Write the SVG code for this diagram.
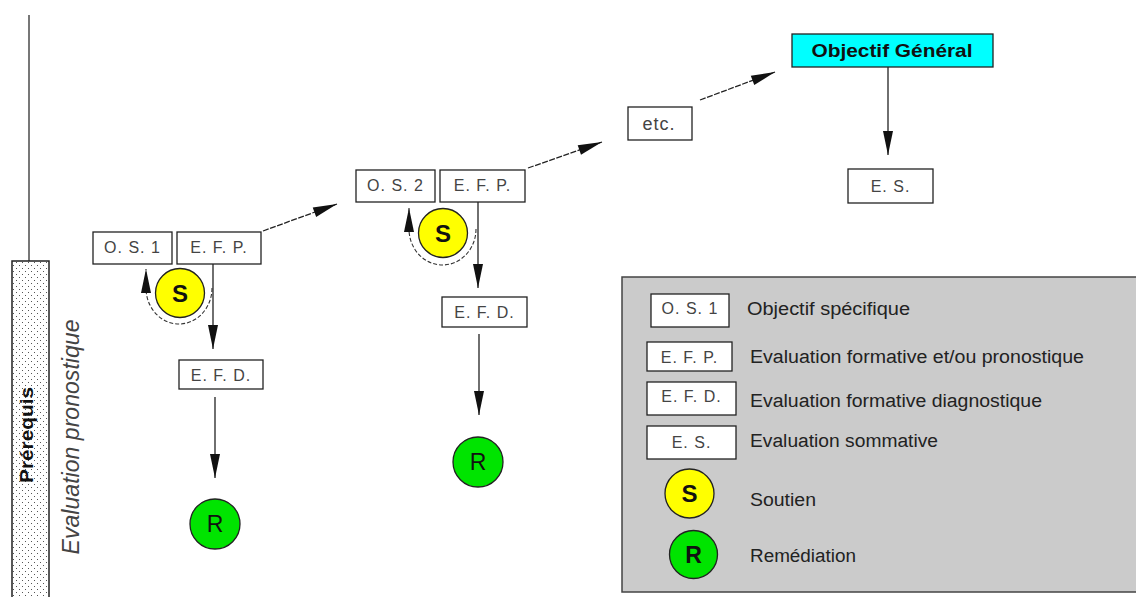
<svg xmlns="http://www.w3.org/2000/svg" width="1136" height="597" viewBox="0 0 1136 597">
<style>
.box{fill:#fff;stroke:#222;stroke-width:1.3}
.bt{font-family:"Liberation Sans",Arial,sans-serif;font-size:16px;fill:#444;text-anchor:middle;letter-spacing:1px}
.lt{font-family:"Liberation Sans",Arial,sans-serif;font-size:18px;fill:#222}
.ln{fill:none;stroke:#222;stroke-width:1.3}
.dl{fill:none;stroke:#222;stroke-width:1.3;stroke-dasharray:6 1.5}
.arc{fill:none;stroke:#333;stroke-width:1.1;stroke-dasharray:4 2}
.sc{fill:#ffff00;stroke:#222;stroke-width:1.3}
.rc{fill:#00e400;stroke:#222;stroke-width:1.3}
.st{font-family:"Liberation Sans",Arial,sans-serif;font-size:24px;font-weight:bold;fill:#111;text-anchor:middle}
.rt{font-family:"Liberation Sans",Arial,sans-serif;font-size:23px;fill:#111;text-anchor:middle}
</style>
<defs>
<marker id="ah" markerUnits="userSpaceOnUse" markerWidth="30" markerHeight="14" viewBox="-26 -7 28 14" refX="0" refY="0" orient="auto">
<path d="M0,0 L-24,-5 L-24,5 Z" fill="#111"/>
</marker>
<pattern id="dots" width="6" height="6" patternUnits="userSpaceOnUse">
<rect width="6" height="6" fill="#fff"/>
<rect x="1" y="1" width="1" height="1" fill="#555"/>
<rect x="4" y="4" width="1" height="1" fill="#555"/>
</pattern>
</defs>

<g id="prerequis">
<line x1="29" y1="15" x2="29" y2="261" stroke="#777" stroke-width="2"/>
<rect x="12" y="261" width="37" height="345" fill="url(#dots)" stroke="#222" stroke-width="1.5"/>
<text transform="translate(33,435) rotate(-90)" font-family="'Liberation Sans',Arial,sans-serif" font-size="18" font-weight="bold" fill="#111" text-anchor="middle" textLength="96" lengthAdjust="spacingAndGlyphs">Prérequis</text>
</g>
<g id="eval-pronostique">
<text transform="translate(79,437) rotate(-90)" font-family="'Liberation Sans',Arial,sans-serif" font-size="23" font-style="italic" fill="#444" text-anchor="middle" textLength="235" lengthAdjust="spacingAndGlyphs">Evaluation pronostique</text>
</g>

<g id="connectors">
<line class="dl" x1="263" y1="231" x2="337" y2="204" marker-end="url(#ah)"/>
<line class="dl" x1="528" y1="168" x2="602" y2="142" marker-end="url(#ah)"/>
<line class="dl" x1="700" y1="100" x2="775" y2="72" marker-end="url(#ah)"/>
<line class="ln" x1="213" y1="264" x2="213" y2="349" marker-end="url(#ah)"/>
<line class="ln" x1="215" y1="397" x2="215" y2="478" marker-end="url(#ah)"/>
<line class="ln" x1="478" y1="202" x2="478" y2="288" marker-end="url(#ah)"/>
<line class="ln" x1="479" y1="334" x2="479" y2="415" marker-end="url(#ah)"/>
<line class="ln" x1="888" y1="67" x2="888" y2="155" marker-end="url(#ah)"/>
<path class="arc" d="M212,288 A33,36 0 0 1 146,288 L146,269" marker-end="url(#ah)"/>
<path class="arc" d="M476,229 A33.5,36 0 0 1 409,229 L409,208" marker-end="url(#ah)"/>
</g>

<g id="os1"><rect class="box" x="93" y="232" width="79" height="32"/><text class="bt" x="132.5" y="253">O. S. 1</text></g>
<g id="efp1"><rect class="box" x="177" y="232" width="84" height="32"/><text class="bt" x="219" y="253">E. F. P.</text></g>
<g id="s1"><circle class="sc" cx="180" cy="293" r="24.5"/><text class="st" x="180" y="302">S</text></g>
<g id="efd1"><rect class="box" x="179" y="360" width="84" height="29"/><text class="bt" x="221" y="381">E. F. D.</text></g>
<g id="r1"><circle class="rc" cx="215" cy="524" r="25"/><text class="rt" x="215" y="532">R</text></g>

<g id="os2"><rect class="box" x="356" y="170" width="79" height="32"/><text class="bt" x="395.5" y="191">O. S. 2</text></g>
<g id="efp2"><rect class="box" x="440" y="170" width="85" height="32"/><text class="bt" x="482.5" y="191">E. F. P.</text></g>
<g id="s2"><circle class="sc" cx="443" cy="233" r="24.5"/><text class="st" x="443" y="242">S</text></g>
<g id="efd2"><rect class="box" x="442" y="297" width="85" height="30"/><text class="bt" x="484.5" y="318">E. F. D.</text></g>
<g id="r2"><circle class="rc" cx="478" cy="462" r="25"/><text class="rt" x="478" y="470">R</text></g>

<g id="etc"><rect class="box" x="628" y="107" width="64" height="33"/><text x="659" y="130" font-family="'Liberation Sans',Arial,sans-serif" font-size="18" fill="#444" text-anchor="middle" letter-spacing="1">etc.</text></g>
<g id="objectif-general"><rect x="792" y="34" width="201" height="33" fill="#00ffff" stroke="#222" stroke-width="1.3"/><text x="892" y="57" font-family="'Liberation Sans',Arial,sans-serif" font-size="19" font-weight="bold" fill="#111" text-anchor="middle" textLength="161" lengthAdjust="spacingAndGlyphs">Objectif Général</text></g>
<g id="es"><rect class="box" x="848" y="169" width="85" height="34"/><text class="bt" x="890.5" y="192">E. S.</text></g>

<g id="legend">
<rect x="622" y="277" width="530" height="315" fill="#cbcbcb" stroke="#444" stroke-width="1.5"/>
<rect class="box" x="651" y="294" width="78" height="33"/><text class="bt" x="690" y="314">O. S. 1</text>
<text class="lt" x="747" y="315" textLength="163" lengthAdjust="spacingAndGlyphs">Objectif spécifique</text>
<rect class="box" x="647" y="342" width="85" height="29"/><text class="bt" x="689.5" y="363">E. F. P.</text>
<text class="lt" x="750" y="363" textLength="334" lengthAdjust="spacingAndGlyphs">Evaluation formative et/ou pronostique</text>
<rect class="box" x="647" y="382" width="89" height="33"/><text class="bt" x="691.5" y="402">E. F. D.</text>
<text class="lt" x="750" y="407" textLength="292" lengthAdjust="spacingAndGlyphs">Evaluation formative diagnostique</text>
<rect class="box" x="647" y="426" width="89" height="33"/><text class="bt" x="691.5" y="448">E. S.</text>
<text class="lt" x="750" y="447" textLength="188" lengthAdjust="spacingAndGlyphs">Evaluation sommative</text>
<circle class="sc" cx="689.5" cy="493.5" r="24.5"/><text class="st" x="689.5" y="502">S</text>
<text class="lt" x="750" y="506" textLength="66" lengthAdjust="spacingAndGlyphs">Soutien</text>
<circle class="rc" cx="693.5" cy="554.5" r="24"/><text class="rt" x="693.5" y="563" font-weight="bold">R</text>
<text class="lt" x="750" y="562" textLength="106" lengthAdjust="spacingAndGlyphs">Remédiation</text>
</g>
</svg>
